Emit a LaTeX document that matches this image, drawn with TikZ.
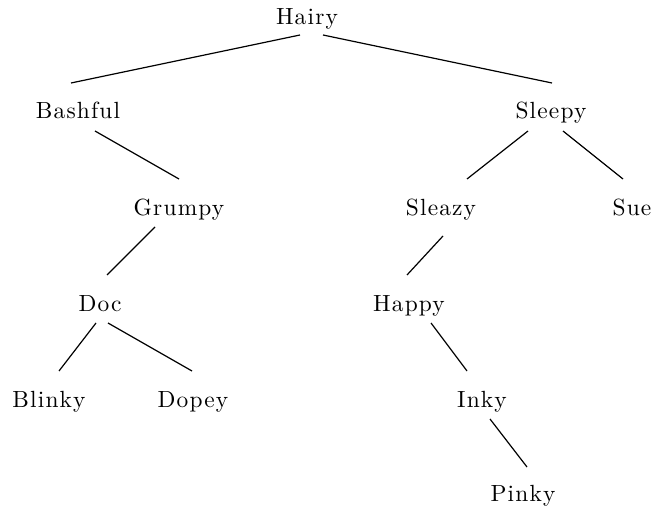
\documentclass[tikz,border=0pt]{standalone}
\usepackage{fontspec}
\newfontfamily\treefont{lmroman10-regular}[Extension=.otf,LetterSpace=5]
\begin{document}
\begin{tikzpicture}[x=1pt,y=1pt,
  treenode/.style={anchor=base,inner sep=0pt,font=\treefont\fontsize{23.4}{28}\selectfont},
  treeedge/.style={line width=1.2pt}]
\useasboundingbox (0,0) rectangle (654,512);
\node[treenode] (hairy)   at (307,487) {Hairy};
\node[treenode] (bashful) at (78,393)  {Bashful};
\node[treenode] (sleepy)  at (551,393) {Sleepy};
\node[treenode] (grumpy)  at (179,296) {Grumpy};
\node[treenode] (sleazy)  at (441,296) {Sleazy};
\node[treenode] (sue)     at (632,296) {Sue};
\node[treenode] (doc)     at (100,200) {Doc};
\node[treenode] (happy)   at (409,200) {Happy};
\node[treenode] (blinky)  at (49,104)  {Blinky};
\node[treenode] (dopey)   at (193,104) {Dopey};
\node[treenode] (inky)    at (482,104) {Inky};
\node[treenode] (pinky)   at (523,10)  {Pinky};
\draw[treeedge] ([shift={(-7,-10)}]hairy.base) -- ([shift={(-7,36)}]bashful.base);
\draw[treeedge] ([shift={(16,-10)}]hairy.base) -- ([shift={(1,36)}]sleepy.base);
\draw[treeedge] ([shift={(17,-12)}]bashful.base) -- ([shift={(0,37)}]grumpy.base);
\draw[treeedge] ([shift={(-23,-12)}]sleepy.base) -- ([shift={(26,37)}]sleazy.base);
\draw[treeedge] ([shift={(12,-12)}]sleepy.base) -- ([shift={(-9,37)}]sue.base);
\draw[treeedge] ([shift={(-24,-11)}]grumpy.base) -- ([shift={(7,37)}]doc.base);
\draw[treeedge] ([shift={(2,-20)}]sleazy.base) -- ([shift={(-2,37)}]happy.base);
\draw[treeedge] ([shift={(-4,-11)}]doc.base) -- ([shift={(10,37)}]blinky.base);
\draw[treeedge] ([shift={(8,-11)}]doc.base) -- ([shift={(-1,37)}]dopey.base);
\draw[treeedge] ([shift={(22,-11)}]happy.base) -- ([shift={(-15,37)}]inky.base);
\draw[treeedge] ([shift={(8,-11)}]inky.base) -- ([shift={(4,35)}]pinky.base);
\end{tikzpicture}
\end{document}
